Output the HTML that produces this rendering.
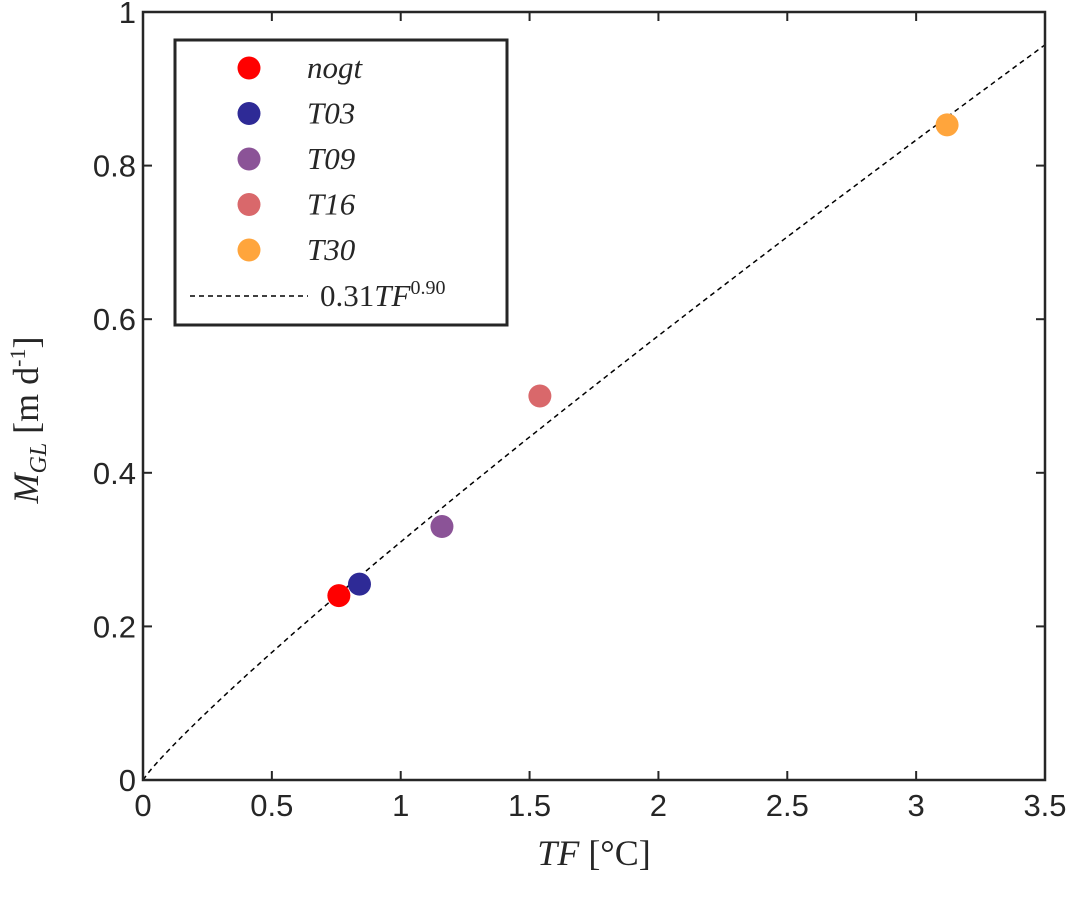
<!DOCTYPE html>
<html><head><meta charset="utf-8"><style>
body{margin:0;background:#fff;overflow:hidden}
svg text{font-family:"Liberation Sans",sans-serif;fill:#262626}
.serif{font-family:"Liberation Serif",serif !important;font-style:italic}
</style></head><body>
<svg id="chart" width="1074" height="903" xmlns="http://www.w3.org/2000/svg" style="position:absolute;left:0;top:0"></svg>
<script>
const names=["nogt","T03","T09","T16","T30"];
const tfValues=[0.76,0.84,1.16,1.54,3.12];
const mglValues=[0.24,0.255,0.33,0.50,0.853];
const colors=["#ff0000","#2e2a96","#8b5397","#d9686b","#ffa53c"];
const xTicks=[0,0.5,1,1.5,2,2.5,3,3.5];
const xTickLabels=["0","0.5","1","1.5","2","2.5","3","3.5"];
const yTicks=[0,0.2,0.4,0.6,0.8,1];
const yTickLabels=["0","0.2","0.4","0.6","0.8","1"];
const fitA=0.31, fitB=0.90;
const L=143,R=1045,T=12,B=780;
const xs=v=>L+v/3.5*(R-L), ys=v=>B-v*(B-T);
const svg=document.getElementById('chart');
const NS="http://www.w3.org/2000/svg";
function mk(t,a,p){const e=document.createElementNS(NS,t);for(const k in a)e.setAttribute(k,a[k]);(p||svg).appendChild(e);return e;}
let d="";for(let i=0;i<=200;i++){const x=3.5*i/200;d+=(i?"L":"M")+xs(x).toFixed(1)+","+ys(fitA*Math.pow(x,fitB)).toFixed(1);}
const fl=mk('path',{d:d,fill:'none',stroke:'#000','stroke-width':1.5,'stroke-dasharray':'5,4'});


tfValues.forEach((v,i)=>{const c=mk('circle',{cx:xs(v),cy:ys(mglValues[i]),r:11.5,fill:colors[i]});

});
xTicks.forEach((v,i)=>{const x=xs(v);mk('line',{x1:x,x2:x,y1:B,y2:B-9,stroke:'#262626','stroke-width':2});mk('line',{x1:x,x2:x,y1:T,y2:T+9,stroke:'#262626','stroke-width':2});
const t=mk('text',{x:x,y:B+36,'text-anchor':'middle','font-size':31});t.textContent=xTickLabels[i];

});
yTicks.forEach((v,i)=>{const y=ys(v);mk('line',{x1:L,x2:L+9,y1:y,y2:y,stroke:'#262626','stroke-width':2});mk('line',{x1:R,x2:R-9,y1:y,y2:y,stroke:'#262626','stroke-width':2});
const t=mk('text',{x:L-7,y:y+11,'text-anchor':'end','font-size':31});t.textContent=yTickLabels[i];

});
const box=mk('rect',{x:L,y:T,width:R-L,height:B-T,fill:'none',stroke:'#262626','stroke-width':2.5});


const lg=mk('g',{});


mk('rect',{x:175,y:40,width:332,height:285,fill:'#fff',stroke:'#262626','stroke-width':3},lg);
names.forEach((n,i)=>{const y=68+i*45.5;mk('circle',{cx:249,cy:y,r:11.5,fill:colors[i]},lg);
const t=mk('text',{x:307,y:y+10,'font-size':31,class:'serif'},lg);t.textContent=n;

});
mk('line',{x1:190,x2:308,y1:296,y2:296,stroke:'#000','stroke-width':1.5,'stroke-dasharray':'5,4'},lg);
const ft=mk('text',{x:320,y:306,'font-size':31,class:'serif'},lg);
ft.innerHTML='<tspan style="font-style:normal">0.31</tspan>TF<tspan dy="-12" font-size="20" style="font-style:normal">0.90</tspan>';
const xt=mk('text',{x:594,y:865,'text-anchor':'middle','font-size':36,class:'serif'});
xt.innerHTML='TF <tspan style="font-style:normal">[°C]</tspan>';


const yt=mk('text',{x:0,y:0,'text-anchor':'middle','font-size':36,class:'serif',transform:'translate(38,420) rotate(-90)'});
yt.innerHTML='M<tspan dy="8" font-size="24">GL</tspan><tspan dy="-8" style="font-style:normal"> [m d</tspan><tspan dy="-13" font-size="22" style="font-style:normal">-1</tspan><tspan dy="13" style="font-style:normal">]</tspan>';


</script>
</body></html>
